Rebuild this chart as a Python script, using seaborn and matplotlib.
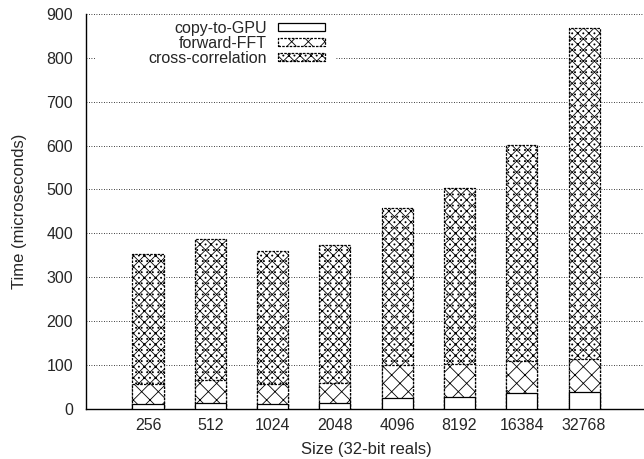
import numpy as np
import pandas as pd
import matplotlib
matplotlib.use("Agg")
import matplotlib.pyplot as plt
from matplotlib.patches import Patch, Rectangle
import seaborn as sns

sizes = ["256", "512", "1024", "2048", "4096", "8192", "16384", "32768"]
copy_gpu = [10, 12, 11, 14, 25, 27, 35, 39]
forward_fft = [46, 53, 45, 44, 74, 75, 74, 74]
cross_corr = [296, 321, 304, 315, 358, 402, 492, 755]

sns.set_style("white")
plt.rcParams['font.family'] = ['Liberation Sans', 'DejaVu Sans']
plt.rcParams['font.size'] = 12
plt.rcParams['hatch.linewidth'] = 0.6
plt.rcParams['hatch.color'] = 'black'

df = pd.DataFrame({"size": sizes, "copy": copy_gpu, "fft": forward_fft, "xcorr": cross_corr})
df["lvl1"] = df["copy"]
df["lvl2"] = df["copy"] + df["fft"]
df["lvl3"] = df["lvl2"] + df["xcorr"]

fig = plt.figure(figsize=(6.44, 4.59), dpi=100)
ax = fig.add_axes([85.7 / 644, 50.3 / 459, 560.7 / 644, 394.7 / 459])

# stacked look: draw cumulative totals from the top down
sns.barplot(data=df, x="size", y="lvl3", color="white", edgecolor="black", hatch="xxx...",
            width=0.5, linewidth=0.9, linestyle=(0, (2, 1)), ax=ax, zorder=2)
sns.barplot(data=df, x="size", y="lvl2", color="white", edgecolor="black", hatch="xx",
            width=0.5, linewidth=0.9, linestyle=(0, (2, 1)), ax=ax, zorder=3)
sns.barplot(data=df, x="size", y="lvl1", color="white", edgecolor="black",
            width=0.5, linewidth=0.9, ax=ax, zorder=4)
for p in ax.patches:
    p.set_facecolor("white")

ax.set_xlim(-1, 8)
ax.set_ylim(0, 900)
ax.set_yticks(range(0, 901, 100))
ax.yaxis.grid(True, color="black", linestyle=(0, (1, 2)), linewidth=0.6)
ax.set_axisbelow(True)
ax.tick_params(axis="both", length=0, labelsize=11.5)
ax.tick_params(axis="x", pad=6.5)
ax.tick_params(axis="y", pad=9)
for s in ["top", "right"]:
    ax.spines[s].set_visible(False)
for s in ["left", "bottom"]:
    ax.spines[s].set_color("black")
    ax.spines[s].set_linewidth(1.0)

ax.set_xlabel("Size (32-bit reals)", fontsize=12, labelpad=6.5)
ax.set_ylabel("Time (microseconds)", fontsize=12, labelpad=14)

# white key box over the grid
ax.add_patch(Rectangle((0.018, 0.868), 0.427, 0.127, transform=ax.transAxes,
                       facecolor="white", edgecolor="none", zorder=1.5))

handles = [
    Patch(facecolor="white", edgecolor="black", linewidth=0.9, label="copy-to-GPU"),
    Patch(facecolor="white", edgecolor="black", hatch="xx", linewidth=0.9, linestyle=(0, (2, 1)), label="forward-FFT"),
    Patch(facecolor="white", edgecolor="black", hatch="xxx...", linewidth=0.9, linestyle=(0, (2, 1)), label="cross-correlation"),
]
ax.legend(handles=handles, loc="upper right", bbox_to_anchor=(0.427, 0.982), frameon=False,
          markerfirst=False, handlelength=2.95, handleheight=0.4, handletextpad=0.7,
          labelspacing=0.0, borderpad=0, borderaxespad=0, fontsize=11.5)

fig.savefig("out.png", dpi=100)
